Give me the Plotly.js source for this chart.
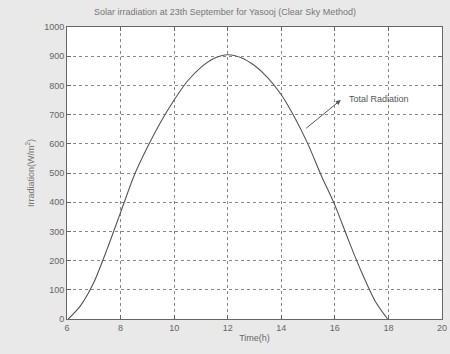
<!DOCTYPE html>
<html>
<head>
<meta charset="utf-8">
<script src="https://cdn.plot.ly/plotly-3.0.1.min.js"></script>
<style>
html,body{margin:0;padding:0;background:#e9e9e9;}
#chart{width:450px;height:354px;}
</style>
</head>
<body>
<div id="chart"></div>
<script>
const hours = [6.05, 6.5, 7, 7.5, 8, 8.5, 9, 9.5, 10, 10.5, 11, 11.5, 12, 12.5, 13, 13.5, 14, 14.5, 15, 15.5, 16, 16.5, 17, 17.5, 17.97];
const irradiation = [0, 45, 125, 240, 365, 490, 588, 675, 750, 815, 862, 893, 905, 895, 868, 826, 768, 690, 598, 490, 390, 272, 160, 62, 0];
const xTicks = [6, 8, 10, 12, 14, 16, 18, 20];
const yTicks = [0, 100, 200, 300, 400, 500, 600, 700, 800, 900, 1000];
const seriesName = "Total Radiation";
const arrowTail = [14.82, 645];
const arrowHead = [16.22, 750];

const axisCommon = {
  showline: true, mirror: 'ticks', linecolor: '#666', linewidth: 1,
  ticks: 'inside', ticklen: 4, tickcolor: '#666',
  showgrid: true, gridcolor: '#888', griddash: 'dot', gridwidth: 1,
  zeroline: false,
  tickfont: {family: 'Liberation Sans, Arial, sans-serif', size: 9, color: '#666'}
};

const trace = {
  x: hours, y: irradiation, type: 'scatter', mode: 'lines',
  name: seriesName,
  line: {color: '#555', width: 1.1, shape: 'spline', smoothing: 0.7},
  showlegend: false
};

const layout = {
  width: 450, height: 354,
  paper_bgcolor: '#e9e9e9', plot_bgcolor: '#ffffff',
  margin: {l: 67, r: 8, t: 27, b: 35},
  title: {text: 'Solar irradiation at 23th September for Yasooj (Clear Sky Method)',
          font: {family: 'Liberation Sans, Arial, sans-serif', size: 9, color: '#777'},
          x: 0.5, xanchor: 'center', y: 0.975, yanchor: 'top'},
  xaxis: Object.assign({}, axisCommon, {
    range: [6, 20], tickvals: xTicks, ticktext: xTicks.map(String),
    title: {text: 'Time(h)', font: {family: 'Liberation Sans, Arial, sans-serif', size: 9, color: '#666'}, standoff: 2}
  }),
  yaxis: Object.assign({}, axisCommon, {
    range: [0, 1000], tickvals: yTicks, ticktext: yTicks.map(String),
    title: {text: 'Irradiation(W/m<sup>2</sup>)', font: {family: 'Liberation Sans, Arial, sans-serif', size: 9, color: '#777'}, standoff: 8}
  }),
  annotations: [
    {x: arrowHead[0], y: arrowHead[1], ax: arrowTail[0], ay: arrowTail[1],
     axref: 'x', ayref: 'y', xref: 'x', yref: 'y', text: ' ', showarrow: true,
     arrowhead: 2, arrowsize: 1, arrowwidth: 1, arrowcolor: '#555'},
    {x: 16.45, y: 755, xref: 'x', yref: 'y', text: seriesName, showarrow: false,
     xanchor: 'left', yanchor: 'middle',
     font: {family: 'Liberation Sans, Arial, sans-serif', size: 9, color: '#555'}}
  ]
};

Plotly.newPlot('chart', [trace], layout, {displayModeBar: false, staticPlot: true});
</script>
</body>
</html>
